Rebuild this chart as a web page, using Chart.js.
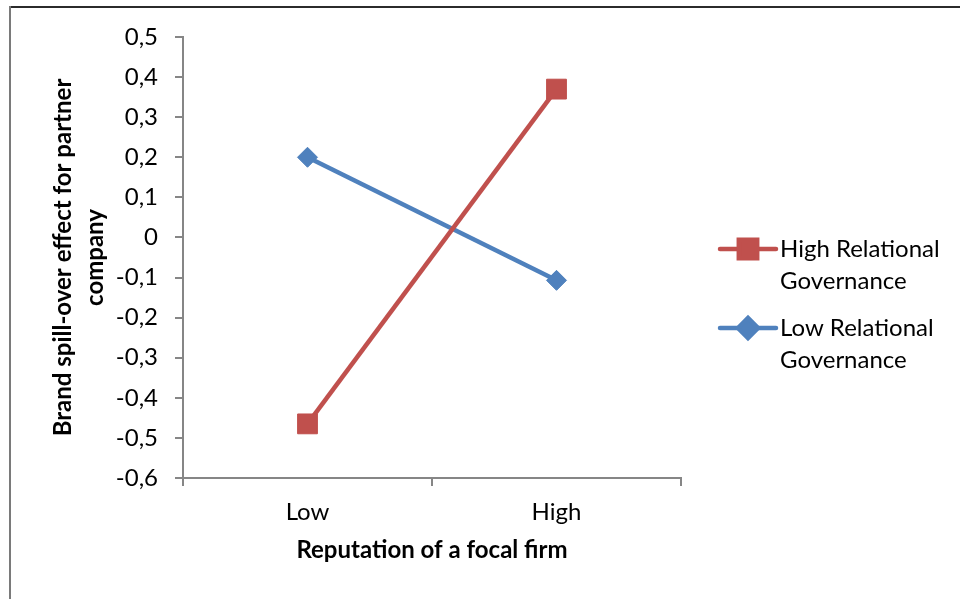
<!DOCTYPE html>
<html>
<head>
<meta charset="utf-8">
<title>Brand spill-over effect</title>
<script src="https://cdn.jsdelivr.net/npm/chart.js@4/dist/chart.umd.min.js"></script>
<style>
  html, body { margin: 0; padding: 0; background: #ffffff; }
  #wrap { width: 960px; height: 599px; }
</style>
</head>
<body>
<div id="wrap"><canvas id="c" width="960" height="599"></canvas></div>
<script>
// Reputation of the focal firm (x categories)
const categories = ['Low', 'High'];
// Series
const seriesNames = ['High Relational Governance', 'Low Relational Governance'];
const highRelational = [-0.465, 0.37];
const lowRelational = [0.2, -0.107];
// Value axis
const yMin = -0.6;
const yMax = 0.5;
const yStep = 0.1;
const xTitle = 'Reputation of a focal firm';
const yTitle = ['Brand spill-over effect for partner', 'company'];

const FONT = 'Lato, "Open Sans", "Liberation Sans", sans-serif';
const AXIS_GREY = '#868686';

function fmtTick(v) {
  if (Math.abs(v) < 1e-9) return '0';
  return (Math.round(v * 10) / 10).toFixed(1).replace('.', ',');
}

// Outer frame lines around the chart object
const framePlugin = {
  id: 'frame',
  beforeDraw(chart) {
    const ctx = chart.ctx;
    ctx.save();
    ctx.strokeStyle = '#2b2b2b';
    ctx.lineWidth = 2;
    ctx.beginPath();
    ctx.moveTo(9, 7);
    ctx.lineTo(chart.width, 7);
    ctx.stroke();
    ctx.strokeStyle = '#7a7a7a';
    ctx.beginPath();
    ctx.moveTo(10, 6);
    ctx.lineTo(10, chart.height);
    ctx.stroke();
    ctx.restore();
  }
};

// Legend on the right with a line sample, marker and wrapped label
const sideLegend = {
  id: 'sideLegend',
  afterDraw(chart) {
    const ctx = chart.ctx;
    const x0 = 720, x1 = 776, tx = 780, maxW = 178;
    const rows = [249, 328];
    ctx.save();
    ctx.font = '24px ' + FONT;
    ctx.textBaseline = 'middle';
    ctx.textAlign = 'left';
    chart.data.datasets.forEach((ds, i) => {
      const y = rows[i];
      ctx.strokeStyle = ds.borderColor;
      ctx.lineWidth = 4.5;
      ctx.lineCap = 'round';
      ctx.beginPath();
      ctx.moveTo(x0, y);
      ctx.lineTo(x1, y);
      ctx.stroke();
      ctx.fillStyle = ds.backgroundColor;
      ctx.strokeStyle = ds.borderColor;
      Chart.helpers.drawPoint(ctx, {
        pointStyle: ds.pointStyle,
        radius: ds.pointStyle === 'rect' ? 13 : 10,
        rotation: 0,
        borderWidth: 1
      }, (x0 + x1) / 2, y);
      // wrap label words
      const words = ds.label.split(' ');
      const lines = [];
      let cur = '';
      words.forEach(w => {
        const t = cur ? cur + ' ' + w : w;
        if (ctx.measureText(t).width > maxW && cur) { lines.push(cur); cur = w; }
        else cur = t;
      });
      if (cur) lines.push(cur);
      ctx.fillStyle = '#000000';
      lines.forEach((ln, k) => ctx.fillText(ln, tx, y + k * 32));
    });
    ctx.restore();
  }
};

new Chart(document.getElementById('c'), {
  type: 'line',
  data: {
    labels: categories,
    datasets: [
      {
        label: seriesNames[0],
        data: highRelational,
        borderColor: '#C0504D',
        backgroundColor: '#C0504D',
        borderWidth: 4.5,
        pointStyle: 'rect',
        pointRadius: 14,
        pointHoverRadius: 14,
        pointBorderWidth: 1,
        tension: 0
      },
      {
        label: seriesNames[1],
        data: lowRelational,
        borderColor: '#4F81BD',
        backgroundColor: '#4F81BD',
        borderWidth: 4.5,
        pointStyle: 'rectRot',
        pointRadius: 10,
        pointHoverRadius: 10,
        pointBorderWidth: 1,
        tension: 0
      }
    ]
  },
  options: {
    responsive: false,
    animation: false,
    devicePixelRatio: 1,
    layout: { padding: { left: 12, top: 37, right: 279, bottom: 0 } },
    plugins: {
      legend: { display: false },
      tooltip: { enabled: false }
    },
    scales: {
      x: {
        type: 'category',
        offset: true,
        afterFit(scale) { scale.height = 121; },
        grid: {
          offset: true,
          drawOnChartArea: false,
          drawTicks: true,
          tickLength: 8,
          color: AXIS_GREY,
          lineWidth: 2
        },
        border: { display: true, color: AXIS_GREY, width: 2 },
        ticks: {
          color: '#000000',
          font: { family: FONT, size: 24 },
          padding: 12
        },
        title: {
          display: true,
          text: xTitle,
          color: '#000000',
          font: { family: FONT, size: 24, weight: 'bold' },
          padding: { top: 0, bottom: 34 }
        }
      },
      y: {
        type: 'linear',
        min: yMin,
        max: yMax,
        afterFit(scale) { scale.width = 171; },
        ticks: {
          stepSize: yStep,
          color: '#000000',
          font: { family: FONT, size: 24 },
          padding: 17,
          callback: (v) => fmtTick(v)
        },
        grid: {
          drawOnChartArea: false,
          drawTicks: true,
          tickLength: 8,
          color: AXIS_GREY,
          lineWidth: 2
        },
        border: { display: true, color: AXIS_GREY, width: 2 },
        title: {
          display: true,
          text: yTitle,
          color: '#000000',
          font: { family: FONT, size: 24, weight: 'bold', lineHeight: 32 / 24 },
          padding: { top: 35, bottom: 0 }
        }
      }
    }
  },
  plugins: [framePlugin, sideLegend]
});
</script>
</body>
</html>
